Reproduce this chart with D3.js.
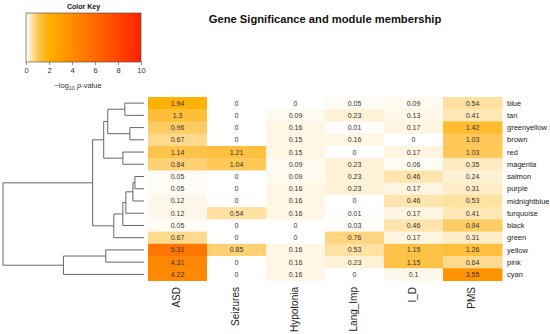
<!DOCTYPE html>
<html>
<head>
<meta charset="utf-8">
<script src="https://cdn.jsdelivr.net/npm/d3@7"></script>
<style>
  body { margin: 0; background: #fff; }
  svg { font-family: "Liberation Sans", Arial, sans-serif; }
</style>
</head>
<body>
<div id="vis"></div>
<script>
// Gene significance heatmap with module dendrogram
const traits = ["ASD", "Seizures", "Hypotonia", "Lang_Imp", "I_D", "PMS"];
const modules = ["blue", "tan", "greenyellow", "brown", "red", "magenta", "salmon", "purple",
  "midnightblue", "turquoise", "black", "green", "yellow", "pink", "cyan"];

// -log10 p-values, one row per module, columns in trait order
const values = [
  [1.94, 0, 0, 0.05, 0.09, 0.54],
  [1.3, 0, 0.09, 0.23, 0.13, 0.41],
  [0.96, 0, 0.16, 0.01, 0.17, 1.42],
  [0.67, 0, 0.15, 0.16, 0, 1.03],
  [1.14, 1.21, 0.15, 0, 0.17, 1.03],
  [0.84, 1.04, 0.09, 0.23, 0.06, 0.35],
  [0.05, 0, 0.09, 0.23, 0.46, 0.24],
  [0.05, 0, 0.16, 0.23, 0.17, 0.31],
  [0.12, 0, 0.16, 0, 0.46, 0.53],
  [0.12, 0.54, 0.16, 0.01, 0.17, 0.41],
  [0.05, 0, 0, 0.03, 0.46, 0.94],
  [0.67, 0, 0, 0.76, 0.17, 0.31],
  [5.31, 0.85, 0.16, 0.53, 1.15, 1.26],
  [4.31, 0, 0.16, 0.23, 1.15, 0.64],
  [4.22, 0, 0.16, 0, 0.1, 3.55]
];

// module clustering (merge heights)
const dendro = { h: 140, children: [
  { h: 51, children: [
    { h: 40, children: [
      { h: 36, children: [{ h: 19, children: ["blue", "tan"] }, { h: 14, children: ["greenyellow", "brown"] }] },
      { h: 21, children: ["red", "magenta"] }
    ] },
    { h: 30, children: [
      { h: 21, children: [
        { h: 18, children: [
          { h: 11, children: [{ h: 9, children: ["salmon", "purple"] }, "midnightblue"] },
          "turquoise"
        ] },
        "black"
      ] },
      "green"
    ] }
  ] },
  { h: 80, children: [{ h: 38, children: ["yellow", "pink"] }, "cyan"] }
] };

const keyTicks = [0, 2, 4, 6, 8, 10];

const width = 550, height = 334;

const svg = d3.select("#vis").append("svg")
  .attr("width", width)
  .attr("height", height);

const color = d3.scaleLinear()
  .domain([0, 0.5, 1.2, 2, 10])
  .range(["#ffffff", "#ffe2a6", "#ffc040", "#ffb000", "#ff2200"])
  .clamp(true);

const x = d3.scaleBand().domain(traits).range([148, 502]);
const y = d3.scaleBand().domain(modules).range([97, 280.5]);

// Title
svg.append("text")
  .attr("x", 325)
  .attr("y", 23)
  .attr("text-anchor", "middle")
  .attr("font-size", "11.2px")
  .attr("font-weight", "bold")
  .attr("fill", "#111")
  .text("Gene Significance and module membership");

// Cells
const cells = [];
values.forEach((row, i) => row.forEach((v, j) => cells.push({ m: modules[i], t: traits[j], v })));

svg.append("g").selectAll("rect")
  .data(cells)
  .join("rect")
  .attr("x", d => x(d.t))
  .attr("y", d => y(d.m))
  .attr("width", x.bandwidth() + 0.5)
  .attr("height", y.bandwidth() + 0.5)
  .attr("fill", d => color(d.v));

svg.append("g").selectAll("text")
  .data(cells)
  .join("text")
  .attr("x", d => x(d.t) + x.bandwidth() / 2)
  .attr("y", d => y(d.m) + y.bandwidth() / 2)
  .attr("dy", "0.35em")
  .attr("text-anchor", "middle")
  .attr("font-size", "7px")
  .attr("fill", "#333")
  .text(d => d.v);

// Row labels
svg.append("g").selectAll("text")
  .data(modules)
  .join("text")
  .attr("x", 507)
  .attr("y", d => y(d) + y.bandwidth() / 2)
  .attr("dy", "0.35em")
  .attr("font-size", "7.5px")
  .attr("fill", "#222")
  .text(d => d);

// Column labels
svg.append("g").selectAll("text")
  .data(traits)
  .join("text")
  .attr("transform", d => `translate(${x(d) + x.bandwidth() / 2 - 1},287) rotate(-90)`)
  .attr("dy", "0.35em")
  .attr("text-anchor", "end")
  .attr("font-size", "10px")
  .attr("fill", "#222")
  .text(d => d);

// Dendrogram
const hx = d3.scaleLinear().domain([0, 140]).range([144, 3]);
const dg = svg.append("g")
  .attr("fill", "none")
  .attr("stroke", "#666")
  .attr("stroke-width", 1);

function layout(node) {
  if (typeof node === "string") return { x: hx(0), y: y(node) + y.bandwidth() / 2 };
  const kids = node.children.map(layout);
  const nx = hx(node.h);
  const ny = (kids[0].y + kids[1].y) / 2;
  dg.append("path")
    .attr("d", `M${kids[0].x},${kids[0].y}H${nx}V${kids[1].y}H${kids[1].x}`);
  return { x: nx, y: ny };
}
layout(dendro);

// Color key
const keyX = d3.scaleLinear().domain([0, 10]).range([26, 141]);
const defs = svg.append("defs");
const grad = defs.append("linearGradient").attr("id", "keygrad");
d3.range(0, 10.01, 0.25).forEach(v => {
  grad.append("stop").attr("offset", `${v * 10}%`).attr("stop-color", color(v));
});

const key = svg.append("g");
key.append("text")
  .attr("x", keyX(5))
  .attr("y", 9)
  .attr("text-anchor", "middle")
  .attr("font-size", "7px")
  .attr("font-weight", "bold")
  .attr("fill", "#111")
  .text("Color Key");

key.append("rect")
  .attr("x", keyX(0))
  .attr("y", 13)
  .attr("width", keyX(10) - keyX(0))
  .attr("height", 49)
  .attr("fill", "url(#keygrad)")
  .attr("stroke", "#444")
  .attr("stroke-width", 0.6);

const keyAxis = key.append("g")
  .attr("transform", "translate(0,62)")
  .call(d3.axisBottom(keyX).tickValues(keyTicks).tickSize(3).tickPadding(3));
keyAxis.select(".domain").remove();
keyAxis.selectAll("line").attr("stroke", "#444").attr("stroke-width", 0.6);
keyAxis.selectAll("text").attr("font-size", "7.5px").attr("fill", "#333").attr("font-family", null);

const lab = key.append("text")
  .attr("x", 78)
  .attr("y", 88)
  .attr("text-anchor", "middle")
  .attr("font-size", "7.5px")
  .attr("fill", "#333");
lab.append("tspan").text("\u2212log");
lab.append("tspan").attr("font-size", "5.5px").attr("dy", "1.5").text("10");
lab.append("tspan").attr("dy", "-1.5").text(" ");
lab.append("tspan").attr("font-style", "italic").text("p");
lab.append("tspan").text("-value");
</script>
</body>
</html>
